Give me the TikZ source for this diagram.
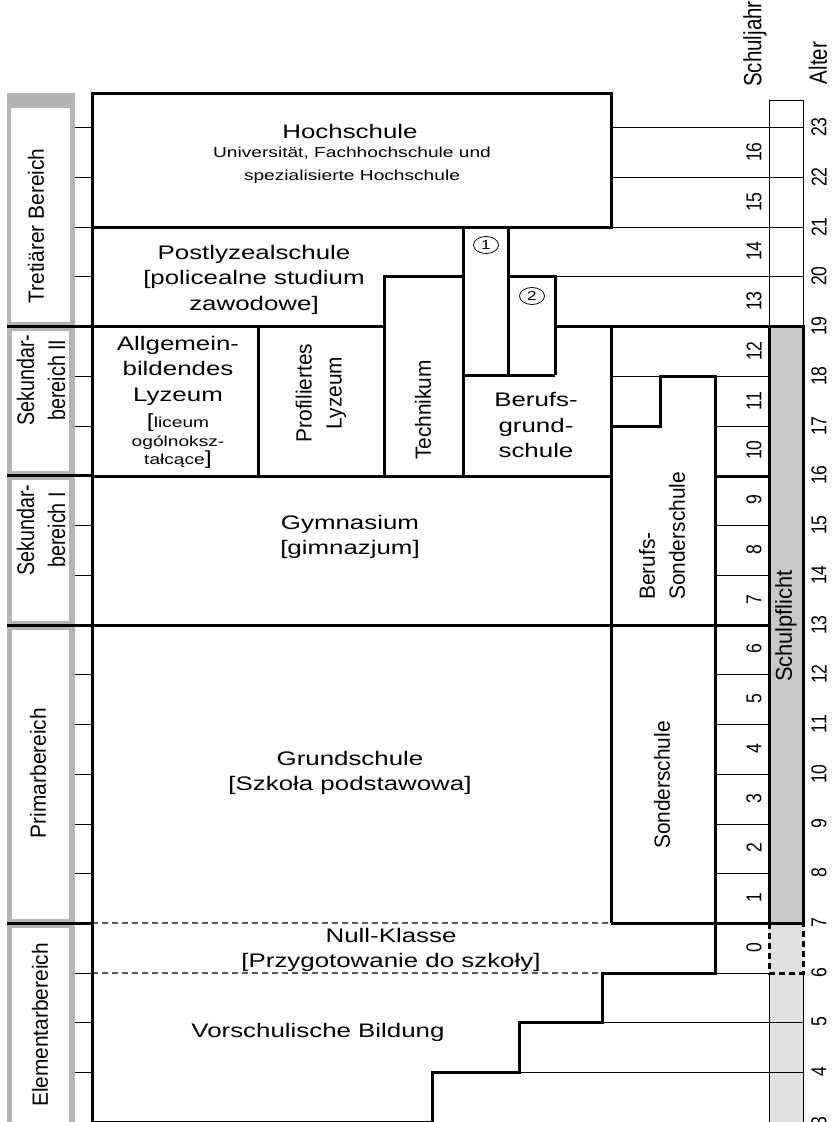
\documentclass[tikz,border=0pt]{standalone}
\usepackage{fontspec}
\setmainfont{Liberation Sans}
\newfontfamily\boxfont{Liberation Sans}[FakeStretch=1.32]
\newfontfamily\sidefont{Liberation Sans}[FakeStretch=0.95]
\newfontfamily\yearfont{Liberation Sans}[FakeStretch=0.82]
\usetikzlibrary{shapes.geometric}
\definecolor{framegray}{RGB}{180,180,180}
\definecolor{dutygray}{RGB}{200,200,200}
\definecolor{palegray}{RGB}{224,224,224}
\tikzset{
  schoolbox/.style={line width=3pt},
  gridline/.style={line width=0.9pt},
  nulline/.style={line width=1.1pt, dash pattern=on 6pt off 4pt, black!65},
  boxtext/.style={inner sep=0pt, align=center, font=\boxfont\fontsize{19.6}{25.5}\selectfont},
  smalltext/.style={inner sep=0pt, align=center, font=\boxfont\fontsize{14.5}{22.5}\selectfont},
  sidetext/.style={inner sep=0pt, align=center, rotate=90, font=\sidefont\fontsize{22}{30}\selectfont},
  yeartext/.style={inner sep=0pt, rotate=90, font=\yearfont\fontsize{21.5}{21.5}\selectfont},
  circlenum/.style={ellipse, draw, line width=0.8pt, minimum width=25pt, minimum height=17pt, inner sep=0pt, font=\boxfont\fontsize{13}{13}\selectfont},
}
\begin{document}
\begin{tikzpicture}[x=1pt,y=-1pt]
\useasboundingbox (0,0) rectangle (835,1122);
% Bereich column
\fill[framegray] (7,93) rectangle (75,326);
\fill[white] (11,108) rectangle (70,322);
\fill[framegray] (7,326) rectangle (75,475);
\fill[white] (12,331) rectangle (69,471);
\fill[framegray] (7,475) rectangle (75,625);
\fill[white] (12,480) rectangle (69,621);
\fill[framegray] (7,625) rectangle (75,923);
\fill[white] (12,630) rectangle (69,919);
\fill[framegray] (7,923) rectangle (75,1122);
\fill[white] (12,928) rectangle (69,1122);
\draw[gridline] (75,127) -- (92,127) (75,177) -- (92,177) (75,227) -- (92,227) (75,276) -- (92,276);
\draw[gridline] (75,376) -- (92,376) (75,426) -- (92,426) (75,525) -- (92,525) (75,575) -- (92,575);
\draw[gridline] (75,674) -- (92,674) (75,724) -- (92,724) (75,774) -- (92,774) (75,824) -- (92,824) (75,873) -- (92,873);
\draw[gridline] (75,973) -- (92,973) (75,1022) -- (92,1022) (75,1072) -- (92,1072);
\draw[schoolbox] (7,326) -- (92,326) (7,475) -- (92,475) (7,625) -- (92,625) (7,923) -- (92,923);
% Schulpflicht column
\fill[palegray] (769,923) rectangle (803,1122);
\draw[gridline] (769,100) rectangle (803,326);
\draw[gridline] (769,973) -- (769,1122) (803,973) -- (803,1122);
\filldraw[fill=dutygray, schoolbox] (769,326) rectangle (803,923);
\draw[line width=3pt, dash pattern=on 6pt off 4pt] (769,923) rectangle (803,973);
% thin year lines
\draw[gridline] (611,127) -- (803,127) (611,177) -- (803,177) (611,227) -- (803,227) (555,276) -- (803,276);
\draw[gridline] (611,376) -- (660,376) (715,376) -- (769,376) (715,426) -- (769,426);
\draw[gridline] (715,525) -- (769,525) (715,575) -- (769,575);
\draw[gridline] (715,674) -- (769,674) (715,724) -- (769,724) (715,774) -- (769,774) (715,824) -- (769,824) (715,873) -- (769,873);
\draw[gridline] (715,973) -- (769,973) (602,1022) -- (803,1022) (519,1072) -- (803,1072) (432,1122) -- (803,1122);
\draw[nulline] (92,923) -- (611,923) (92,973) -- (602,973);
% schools
\draw[schoolbox] (92,93) rectangle (611,227);
\draw[schoolbox] (92,93) -- (92,1122);
\draw[schoolbox] (92,326) -- (384,326);
\draw[schoolbox] (384,476) -- (384,276) -- (463,276);
\draw[schoolbox] (463,227) -- (463,476);
\draw[schoolbox] (508,227) -- (508,375);
\draw[schoolbox] (508,276) -- (555,276) -- (555,375);
\draw[schoolbox] (463,375) -- (555,375);
\draw[schoolbox] (555,326) -- (769,326);
\draw[schoolbox] (258,326) -- (258,476);
\draw[schoolbox] (611,326) -- (611,923);
\draw[schoolbox] (92,476) -- (611,476) (715,476) -- (769,476);
\draw[schoolbox] (92,625) -- (769,625);
\draw[schoolbox] (611,923) -- (769,923);
\draw[schoolbox] (611,426) -- (660,426) -- (660,376) -- (715,376) -- (715,973) -- (602,973) -- (602,1022) -- (519,1022) -- (519,1072) -- (432,1072) -- (432,1122) -- (92,1122);
% Bereich labels
\node[sidetext] (tertiaer) at (36,226) {Tretiärer Bereich};
\node[sidetext, font=\yearfont\fontsize{24}{31}\selectfont] (sek2) at (41,380) {Sekundar-\\bereich II};
\node[sidetext, font=\yearfont\fontsize{24}{31}\selectfont] (sek1) at (41,530) {Sekundar-\\bereich I};
\node[sidetext] (primar) at (38,773) {Primarbereich};
\node[sidetext] (elementar) at (40,1025) {Elementarbereich};
% school labels
\node[boxtext, anchor=base] (hochschule) at (350,138) {Hochschule};
\node[smalltext, anchor=north] (hochtyp) at (352,147) {Universität, Fachhochschule und\\spezialisierte Hochschule};
\node[boxtext, anchor=north] (postlyzeal) at (254,245) {Postlyzealschule\\{[}policealne studium\\zawodowe{]}};
\node[boxtext, anchor=north] (allgemein) at (178,336) {Allgemein-\\bildendes\\Lyzeum};
\node[smalltext, anchor=north, font=\boxfont\fontsize{14.5}{18.5}\selectfont] (liceum) at (178,414) {{\fontsize{19}{18}\selectfont[}liceum\\ogólnoksz-\\tałcące{\fontsize{19}{18}\selectfont]}};
\node[sidetext] (profiliert) at (321,393) {Profiliertes\\Lyzeum};
\node[sidetext] (technikum) at (423,410) {Technikum};
\node[boxtext] (berufsgrund) at (536,425) {Berufs-\\grund-\\schule};
\node[circlenum] (eins) at (486,245) {1};
\node[circlenum] (zwei) at (532,296) {2};
\node[boxtext] (gymnasium) at (350,537) {Gymnasium\\{[}gimnazjum{]}};
\node[sidetext, align=left, anchor=west] (berufssonder) at (662,600) {Berufs-\\Sonderschule};
\node[boxtext] (grundschule) at (350,773) {Grundschule\\{[}Szkoła podstawowa{]}};
\node[sidetext] (sonderschule) at (662,785) {Sonderschule};
\node[boxtext] (nullklasse) at (391,950) {Null-Klasse\\{[}Przygotowanie do szkoły{]}};
\node[boxtext, anchor=base] (vorschule) at (318,1037) {Vorschulische Bildung};
\node[sidetext, font=\sidefont\fontsize{23}{23}\selectfont] (schulpflicht) at (786,626) {Schulpflicht};
% Schuljahr
\node[yeartext, font=\yearfont\fontsize{25}{25}\selectfont] (schuljahr) at (755,44) {Schuljahr};
\node[yeartext] (sj16) at (754,152) {16};
\node[yeartext] (sj15) at (754,202) {15};
\node[yeartext] (sj14) at (754,251) {14};
\node[yeartext] (sj13) at (754,301) {13};
\node[yeartext] (sj12) at (754,351) {12};
\node[yeartext] (sj11) at (754,401) {11};
\node[yeartext] (sj10) at (754,450) {10};
\node[yeartext] (sj9) at (754,500) {9};
\node[yeartext] (sj8) at (754,550) {8};
\node[yeartext] (sj7) at (754,600) {7};
\node[yeartext] (sj6) at (754,649) {6};
\node[yeartext] (sj5) at (754,699) {5};
\node[yeartext] (sj4) at (754,749) {4};
\node[yeartext] (sj3) at (754,799) {3};
\node[yeartext] (sj2) at (754,848) {2};
\node[yeartext] (sj1) at (754,898) {1};
\node[yeartext] (sj0) at (754,948) {0};
% Alter
\node[yeartext, font=\yearfont\fontsize{25}{25}\selectfont] (alter) at (818,63) {Alter};
\node[yeartext] (a23) at (819,127) {23};
\node[yeartext] (a22) at (819,177) {22};
\node[yeartext] (a21) at (819,227) {21};
\node[yeartext] (a20) at (819,276) {20};
\node[yeartext] (a19) at (819,326) {19};
\node[yeartext] (a18) at (819,376) {18};
\node[yeartext] (a17) at (819,426) {17};
\node[yeartext] (a16) at (819,475) {16};
\node[yeartext] (a15) at (819,525) {15};
\node[yeartext] (a14) at (819,575) {14};
\node[yeartext] (a13) at (819,625) {13};
\node[yeartext] (a12) at (819,674) {12};
\node[yeartext] (a11) at (819,724) {11};
\node[yeartext] (a10) at (819,774) {10};
\node[yeartext] (a9) at (819,824) {9};
\node[yeartext] (a8) at (819,873) {8};
\node[yeartext] (a7) at (819,923) {7};
\node[yeartext] (a6) at (819,973) {6};
\node[yeartext] (a5) at (819,1022) {5};
\node[yeartext] (a4) at (819,1072) {4};
\node[yeartext] (a3) at (819,1122) {3};
\end{tikzpicture}
\end{document}
